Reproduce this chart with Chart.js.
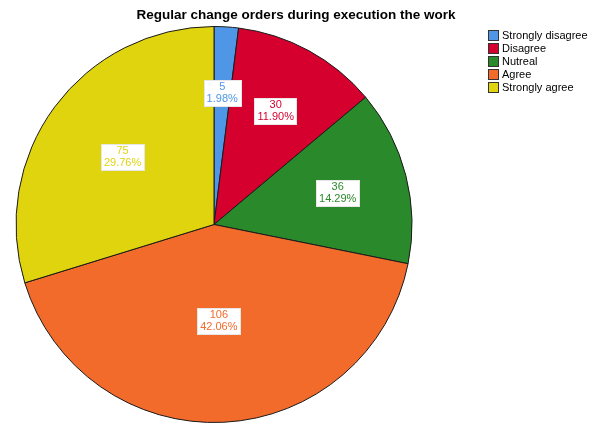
<!DOCTYPE html>
<html>
<head>
<meta charset="utf-8">
<script src="https://cdn.jsdelivr.net/npm/chart.js@4/dist/chart.umd.min.js"></script>
<style>
  body { margin: 0; background: #fff; }
  #wrap { position: relative; width: 589px; height: 426px; }
</style>
</head>
<body>
<div id="wrap"><canvas id="pieChart"></canvas></div>
<script>
// Chart data
const chartTitle = 'Regular change orders during execution the work';
const categories = ['Strongly disagree', 'Disagree', 'Nutreal', 'Agree', 'Strongly agree'];
const counts = [5, 30, 36, 106, 75];
const sliceColors = ['#4f96e6', '#d5002e', '#2a8a2b', '#f26b2b', '#e0d40e'];

const total = counts.reduce((a, b) => a + b, 0);
const FONT = "'Liberation Sans', Arial, sans-serif";

// Value/percent boxes placed at the centroid of each slice
const sliceLabels = {
    id: 'sliceLabels',
    afterDatasetsDraw(chart) {
        const ctx = chart.ctx;
        const arcs = chart.getDatasetMeta(0).data;
        ctx.save();
        ctx.font = '11px ' + FONT;
        ctx.textAlign = 'center';
        ctx.textBaseline = 'middle';
        arcs.forEach((arc, i) => {
            const p = arc.getProps(['x', 'y', 'startAngle', 'endAngle', 'outerRadius'], true);
            const half = (p.endAngle - p.startAngle) / 2;
            const mid = p.startAngle + half;
            const d = (2 / 3) * p.outerRadius * Math.sin(half) / half;
            const cx = p.x + Math.cos(mid) * d;
            const cy = p.y + Math.sin(mid) * d;
            const line1 = String(counts[i]);
            const line2 = (counts[i] / total * 100).toFixed(2) + '%';
            const w = Math.max(ctx.measureText(line1).width, ctx.measureText(line2).width) + 6;
            const h = 26;
            ctx.fillStyle = '#fff';
            ctx.fillRect(Math.round(cx - w / 2), Math.round(cy - h / 2), Math.round(w), h);
            ctx.strokeStyle = '#e6e6e6';
            ctx.lineWidth = 1;
            ctx.strokeRect(Math.round(cx - w / 2) + 0.5, Math.round(cy - h / 2) + 0.5, Math.round(w), h);
            ctx.fillStyle = sliceColors[i];
            ctx.fillText(line1, cx, cy - 6);
            ctx.fillText(line2, cx, cy + 6);
        });
        ctx.restore();
    }
};

// Title and legend drawn the SPSS way
const titleAndLegend = {
    id: 'titleAndLegend',
    afterDraw(chart) {
        const ctx = chart.ctx;
        ctx.save();
        ctx.fillStyle = '#000';
        ctx.font = 'bold 13.5px ' + FONT;
        ctx.textAlign = 'center';
        ctx.textBaseline = 'middle';
        ctx.fillText(chartTitle, 296, 15);

        ctx.font = '11px ' + FONT;
        ctx.textAlign = 'left';
        categories.forEach((name, i) => {
            const y = 35 + i * 13;
            ctx.fillStyle = sliceColors[i];
            ctx.fillRect(488, y - 5, 10, 10);
            ctx.strokeStyle = '#333';
            ctx.lineWidth = 1;
            ctx.strokeRect(488.5, y - 4.5, 10, 10);
            ctx.fillStyle = '#000';
            ctx.fillText(name, 502, y + 1);
        });
        ctx.restore();
    }
};

new Chart(document.getElementById('pieChart'), {
    type: 'pie',
    data: {
        labels: categories,
        datasets: [{
            data: counts,
            backgroundColor: sliceColors,
            borderColor: '#1a1a1a',
            borderWidth: 1
        }]
    },
    options: {
        responsive: true,
        maintainAspectRatio: false,
        animation: false,
        layout: {
            padding: { left: 15, top: 26, right: 176, bottom: 3 }
        },
        plugins: {
            legend: { display: false },
            title: { display: false },
            tooltip: { enabled: false }
        }
    },
    plugins: [sliceLabels, titleAndLegend]
});
</script>
</body>
</html>
